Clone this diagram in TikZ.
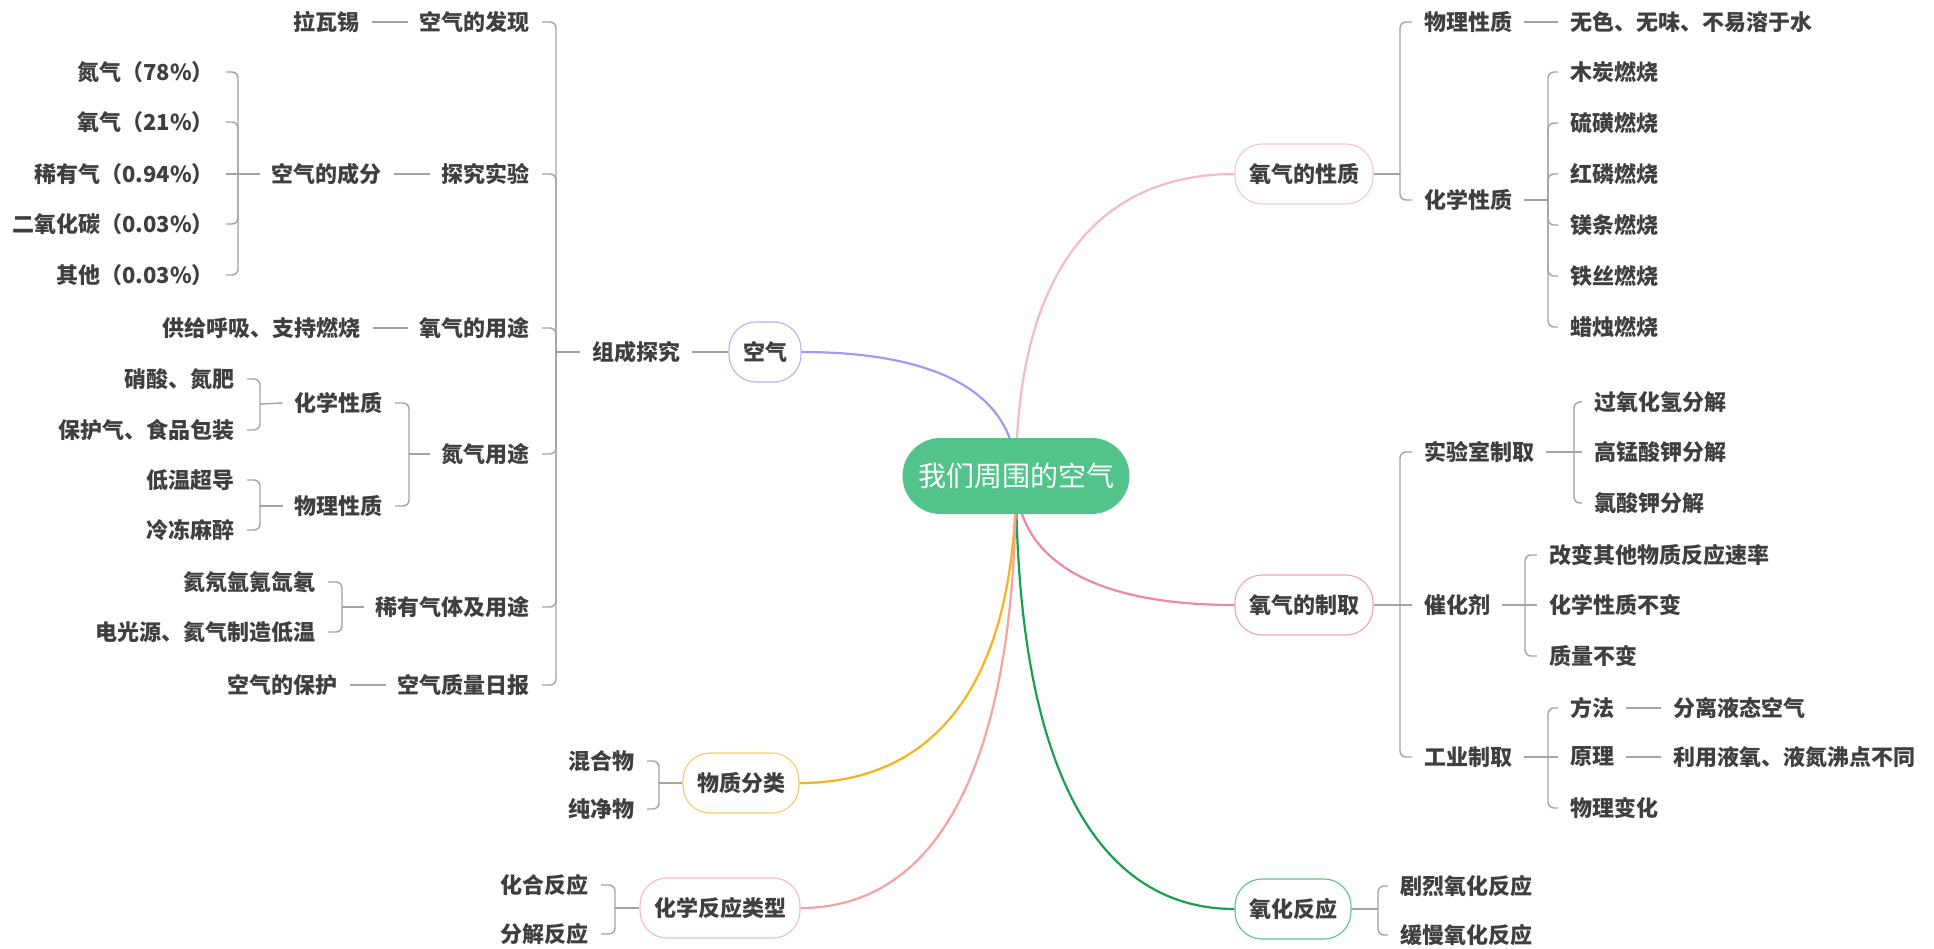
\documentclass[tikz,border=0pt]{standalone}
\usepackage{fontspec}
\setmainfont{Noto Sans CJK SC}
\usetikzlibrary{backgrounds}
\definecolor{txt}{HTML}{3F3F3F}
\definecolor{gl}{HTML}{A3A3A3}
\definecolor{rootc}{HTML}{52C48B}
\definecolor{cAir}{HTML}{9C9CF4}
\definecolor{bAir}{HTML}{B3B3F2}
\definecolor{cProp}{HTML}{F6B8CC}
\definecolor{bProp}{HTML}{F7C4D4}
\definecolor{cMake}{HTML}{EC86AB}
\definecolor{bMake}{HTML}{EFA2BE}
\definecolor{cOx}{HTML}{16A04F}
\definecolor{bOx}{HTML}{62C08D}
\definecolor{cCls}{HTML}{F5B41E}
\definecolor{bCls}{HTML}{F4CC66}
\definecolor{cRx}{HTML}{F7A1A1}
\definecolor{bRx}{HTML}{F5B8CE}
\begin{document}
\begin{tikzpicture}[x=1pt,y=-1pt,
  lbl/.style={inner xsep=12pt, inner ysep=3pt, text=txt, font=\fontsize{22}{26}\selectfont\bfseries},
  lt/.style={lbl, anchor=east},
  rt/.style={lbl, anchor=west},
  mainnode/.style={draw=#1, line width=1.1pt, fill=white, rounded corners=27pt, minimum height=60pt, inner xsep=14pt, text=txt, font=\fontsize{22}{26}\selectfont\bfseries},
  gline/.style={draw=gl, line width=1.4pt},
  br/.style={gline, rounded corners=6pt},
  curvec/.style={draw=#1, line width=2.2pt},
]
\useasboundingbox (0,0) rectangle (1934,949);

% root and main topics
\node[fill=rootc, rounded corners=38pt, minimum height=76pt, minimum width=227pt, text=white, font=\fontsize{28}{32}\selectfont] (root) at (1016,476) {我们周围的空气};
\node[mainnode=bAir] (air) at (765,352) {空气};
\node[mainnode=bProp] (prop) at (1304,174) {氧气的性质};
\node[mainnode=bMake] (make) at (1304,605) {氧气的制取};
\node[mainnode=bOx] (oxr) at (1293,909) {氧化反应};
\node[mainnode=bCls] (cls) at (741,783) {物质分类};
\node[mainnode=bRx] (rx) at (720,908) {化学反应类型};

\begin{scope}[on background layer]
\draw[curvec=cAir] (root.center) .. controls (1016,389) and (930,352) .. (air.east);
\draw[curvec=cProp] (root.center) .. controls (1016,265) and (1103,174) .. (prop.west);
\draw[curvec=cMake] (root.center) .. controls (1016,566) and (1103,605) .. (make.west);
\draw[curvec=cOx] (root.center) .. controls (1016,779) and (1103,909) .. (oxr.west);
\draw[curvec=cCls] (root.center) .. controls (1016,691) and (930,783) .. (cls.east);
\draw[curvec=cRx] (root.center) .. controls (1016,778) and (931,908) .. (rx.east);
\end{scope}

% ---------- 空气 subtree ----------
\node[lbl] (zc) at (636,352) {组成探究};
\draw[gline] (zc.east) -- (air.west);
\coordinate (jz) at (556,352);
\draw[gline] (zc.west) -- (jz);
\node[lt] (fx) at (542,22) {空气的发现};
\node[lt] (tj) at (542,174) {探究实验};
\node[lt] (yy) at (542,328) {氧气的用途};
\node[lt] (dq) at (542,454) {氮气用途};
\node[lt] (xy) at (542,607) {稀有气体及用途};
\node[lt] (rb) at (542,685) {空气质量日报};
\foreach \n in {fx,tj,yy,dq,xy,rb} \draw[br] (jz) |- (\n.east);

\node[lt] (lws) at (372,22) {拉瓦锡};
\draw[gline] (fx.west) -- (lws.east);

\node[lt] (cf) at (394,174) {空气的成分};
\draw[gline] (tj.west) -- (cf.east);
\coordinate (jcf) at (238,174);
\draw[gline] (cf.west) -- (jcf);
\node[lt] (c1) at (226,72) {氮气（78\%）};
\node[lt] (c2) at (226,122) {氧气（21\%）};
\node[lt] (c3) at (226,174) {稀有气（0.94\%）};
\node[lt] (c4) at (226,224) {二氧化碳（0.03\%）};
\node[lt] (c5) at (226,275) {其他（0.03\%）};
\foreach \n in {c1,c2,c4,c5} \draw[br] (jcf) |- (\n.east);
\draw[gline] (jcf) -- (c3.east);

\node[lt] (gg) at (373,328) {供给呼吸、支持燃烧};
\draw[gline] (yy.west) -- (gg.east);

\coordinate (jdq) at (409,454);
\draw[gline] (dq.west) -- (jdq);
\node[lt] (hx) at (395,403) {化学性质};
\node[lt] (wl) at (395,506) {物理性质};
\draw[br] (jdq) |- (hx.east);
\draw[br] (jdq) |- (wl.east);
\coordinate (jhx) at (260,404);
\draw[gline] (hx.west) -- (jhx);
\node[lt] (h1) at (247,379) {硝酸、氮肥};
\node[lt] (h2) at (247,430) {保护气、食品包装};
\draw[br] (jhx) |- (h1.east);
\draw[br] (jhx) |- (h2.east);
\coordinate (jwl) at (260,506);
\draw[gline] (wl.west) -- (jwl);
\node[lt] (w1) at (247,480) {低温超导};
\node[lt] (w2) at (247,530) {冷冻麻醉};
\draw[br] (jwl) |- (w1.east);
\draw[br] (jwl) |- (w2.east);

\coordinate (jxy) at (342,607);
\draw[gline] (xy.west) -- (jxy);
\node[lt] (x1) at (328,582) {氦氖氩氪氙氡};
\node[lt] (x2) at (328,632) {电光源、氦气制造低温};
\draw[br] (jxy) |- (x1.east);
\draw[br] (jxy) |- (x2.east);

\node[lt] (bh) at (350,685) {空气的保护};
\draw[gline] (rb.west) -- (bh.east);

% ---------- 氧气的性质 ----------
\coordinate (jp) at (1400,174);
\draw[gline] (prop.east) -- (jp);
\node[rt] (pw) at (1412,22) {物理性质};
\node[rt] (ph) at (1412,200) {化学性质};
\draw[br] (jp) |- (pw.west);
\draw[br] (jp) |- (ph.west);
\node[rt] (pw1) at (1558,22) {无色、无味、不易溶于水};
\draw[gline] (pw.east) -- (pw1.west);
\coordinate (jph) at (1548,200);
\draw[gline] (ph.east) -- (jph);
\node[rt] (p1) at (1558,72) {木炭燃烧};
\node[rt] (p2) at (1558,123) {硫磺燃烧};
\node[rt] (p3) at (1558,174) {红磷燃烧};
\node[rt] (p4) at (1558,225) {镁条燃烧};
\node[rt] (p5) at (1558,276) {铁丝燃烧};
\node[rt] (p6) at (1558,327) {蜡烛燃烧};
\foreach \n in {p1,p2,p3,p4,p5,p6} \draw[br] (jph) |- (\n.west);

% ---------- 氧气的制取 ----------
\coordinate (jm) at (1400,605);
\draw[gline] (make.east) -- (jm);
\node[rt] (m1) at (1412,452) {实验室制取};
\node[rt] (m2) at (1412,605) {催化剂};
\node[rt] (m3) at (1412,757) {工业制取};
\draw[br] (jm) |- (m1.west);
\draw[gline] (jm) -- (m2.west);
\draw[br] (jm) |- (m3.west);

\coordinate (jm1) at (1574,452);
\draw[gline] (m1.east) -- (jm1);
\node[rt] (s1) at (1582,402) {过氧化氢分解};
\node[rt] (s2) at (1582,452) {高锰酸钾分解};
\node[rt] (s3) at (1582,503) {氯酸钾分解};
\draw[br] (jm1) |- (s1.west);
\draw[gline] (jm1) -- (s2.west);
\draw[br] (jm1) |- (s3.west);

\coordinate (jm2) at (1525,605);
\draw[gline] (m2.east) -- (jm2);
\node[rt] (k1) at (1537,555) {改变其他物质反应速率};
\node[rt] (k2) at (1537,605) {化学性质不变};
\node[rt] (k3) at (1537,656) {质量不变};
\draw[br] (jm2) |- (k1.west);
\draw[gline] (jm2) -- (k2.west);
\draw[br] (jm2) |- (k3.west);

\coordinate (jm3) at (1548,757);
\draw[gline] (m3.east) -- (jm3);
\node[rt] (g1) at (1558,708) {方法};
\node[rt] (g2) at (1558,757) {原理};
\node[rt] (g3) at (1558,808) {物理变化};
\draw[br] (jm3) |- (g1.west);
\draw[gline] (jm3) -- (g2.west);
\draw[br] (jm3) |- (g3.west);
\node[rt] (g1a) at (1661,708) {分离液态空气};
\draw[gline] (g1.east) -- (g1a.west);
\node[rt] (g2a) at (1661,757) {利用液氧、液氮沸点不同};
\draw[gline] (g2.east) -- (g2a.west);

% ---------- 氧化反应 ----------
\coordinate (jo) at (1378,909);
\draw[gline] (oxr.east) -- (jo);
\node[rt] (o1) at (1388,886) {剧烈氧化反应};
\node[rt] (o2) at (1388,935) {缓慢氧化反应};
\draw[br] (jo) |- (o1.west);
\draw[br] (jo) |- (o2.west);

% ---------- 物质分类 ----------
\coordinate (jc) at (659,783);
\draw[gline] (cls.west) -- (jc);
\node[lt] (q1) at (647,761) {混合物};
\node[lt] (q2) at (647,809) {纯净物};
\draw[br] (jc) |- (q1.east);
\draw[br] (jc) |- (q2.east);

% ---------- 化学反应类型 ----------
\coordinate (jr) at (615,908);
\draw[gline] (rx.west) -- (jr);
\node[lt] (r1) at (601,885) {化合反应};
\node[lt] (r2) at (601,934) {分解反应};
\draw[br] (jr) |- (r1.east);
\draw[br] (jr) |- (r2.east);
\end{tikzpicture}
\end{document}
